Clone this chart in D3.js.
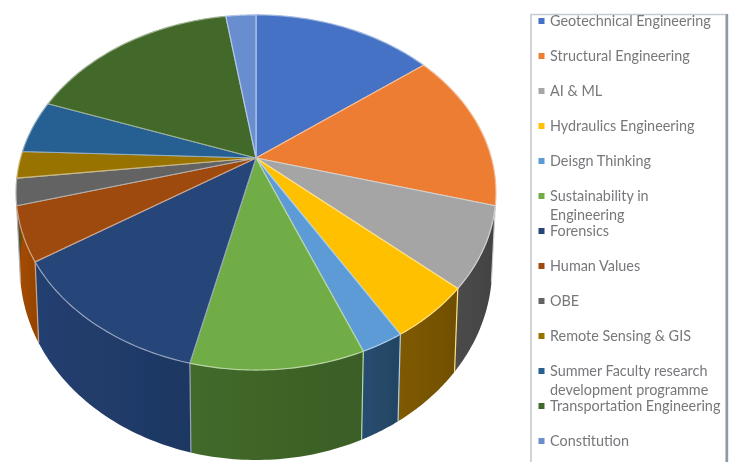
<!DOCTYPE html>
<html>
<head>
<meta charset="utf-8">
<script src="https://cdn.jsdelivr.net/npm/d3@7"></script>
<style>
  html, body {margin: 0; padding: 0; background: #fff;}
  svg {display: block;}
</style>
</head>
<body>
<svg id="chart" width="732" height="462"></svg>
<script>
`use strict`;

const Topics = [`Geotechnical Engineering`, `Structural Engineering`, `AI & ML`, `Hydraulics Engineering`, `Deisgn Thinking`, `Sustainability in Engineering`, `Forensics`, `Human Values`, `OBE`, `Remote Sensing & GIS`, `Summer Faculty research development programme`, `Transportation Engineering`, `Constitution`];

const Values = [6, 6, 3, 2, 1, 4, 5, 2, 1, 1, 2, 7, 1];

const TopColors = [`#4472c4`, `#ed7d31`, `#a5a5a5`, `#ffc000`, `#5b9bd5`, `#70ad47`, `#264478`, `#9e480e`, `#636363`, `#997300`, `#255e91`, `#43682b`, `#698ed0`];

const SideColors = [`#2d4c85`, `#a35520`, `#484848`, `#7a5600`, `#264a6b`, `#3f6628`, `#213c6b`, `#a34a05`, `#444444`, `#6b5000`, `#1a4266`, `#2f4a1e`, `#4a6492`];

const LegendLines = [[`Geotechnical Engineering`], [`Structural Engineering`], [`AI & ML`], [`Hydraulics Engineering`], [`Deisgn Thinking`], [`Sustainability in`, `Engineering`], [`Forensics`], [`Human Values`], [`OBE`], [`Remote Sensing & GIS`], [`Summer Faculty research`, `development programme`], [`Transportation Engineering`], [`Constitution`]];

(function () {

  const svg = d3.select(`#chart`);

  const defs = svg.append(`defs`);

  defs.append(`filter`).attr(`id`, `soft`)
    .attr(`x`, `-5%`).attr(`y`, `-5%`).attr(`width`, `110%`).attr(`height`, `110%`)
    .append(`feGaussianBlur`).attr(`stdDeviation`, .45);

  defs.append(`filter`).attr(`id`, `softer`)
    .attr(`x`, `-5%`).attr(`y`, `-5%`).attr(`width`, `110%`).attr(`height`, `110%`)
    .append(`feGaussianBlur`).attr(`stdDeviation`, .6);

  // tilted circle seen in perspective, apex sits above the middle of the ellipse
  const CX = 256, CY = 158, R = 235.4, RS = 170.9, K = .194, DEPTH = 72.5;

  const project = (angle, z) => {

    let u = Math.sin(angle), v = -Math.cos(angle), w = 1 - K * v;

    return [CX + R * u / w * (1 - .016 * z), CY + RS * v / w + z * DEPTH / w];
  };

  const color = d3.scaleOrdinal().domain(Topics).range(TopColors);

  const side = d3.scaleOrdinal().domain(Topics).range(SideColors);

  const pale = d => d3.interpolateRgb(color(d), `#ffffff`)(.5);

  const arcs = d3.pie().sort(null).value((d, i) => Values[i])(Topics);

  const line = d3.line();

  const rim = (a0, a1, z) => d3.range(0, 41).map(i => project(a0 + (a1 - a0) * i / 40, z));

  const pie = svg.append(`g`).attr(`filter`, `url(#soft)`);

  // sides first, the top face paints over what is at the back
  arcs.forEach((d, i) => {

    let id = `side${i}`, p0 = project(d.startAngle, 0), p1 = project(d.endAngle, 0);

    let grad = defs.append(`linearGradient`).attr(`id`, id)
      .attr(`gradientUnits`, `userSpaceOnUse`)
      .attr(`x1`, p1[0]).attr(`x2`, p0[0]).attr(`y1`, 0).attr(`y2`, 0);

    grad.append(`stop`).attr(`offset`, 0).attr(`stop-color`, d3.color(side(d.data)).brighter(.12));

    grad.append(`stop`).attr(`offset`, 1).attr(`stop-color`, d3.color(side(d.data)).darker(.25));

    let outline = rim(d.startAngle, d.endAngle, 0).concat(rim(d.startAngle, d.endAngle, 1).reverse());

    pie.append(`path`)
      .attr(`d`, line(outline) + `Z`)
      .attr(`fill`, `url(#${id})`);
  });

  // pale seams between the side panels on the front of the pie
  arcs.forEach(d => {

    if (Math.cos(d.startAngle) > -.25) return;

    pie.append(`path`)
      .attr(`d`, line([project(d.startAngle, 0), project(d.startAngle, 1)]))
      .attr(`stroke`, pale(d.data))
      .attr(`stroke-width`, 1.2)
      .attr(`fill`, `none`);
  });

  arcs.forEach(d => {

    pie.append(`path`)
      .attr(`d`, line([[CX, CY]].concat(rim(d.startAngle, d.endAngle, 0))) + `Z`)
      .attr(`fill`, color(d.data))
      .attr(`stroke`, pale(d.data))
      .attr(`stroke-linejoin`, `round`)
      .attr(`stroke-width`, 1.2);
  });

  // legend box runs off the bottom of the picture
  const legend = svg.append(`g`).attr(`filter`, `url(#softer)`);

  legend.append(`path`).attr(`d`, `M531,470V14.5H726V470`).attr(`fill`, `none`).attr(`stroke`, `#c6cbd1`).attr(`stroke-width`, 1.6);

  legend.append(`path`).attr(`d`, `M727,14V470`).attr(`fill`, `none`).attr(`stroke`, `#8f99a8`).attr(`stroke-width`, 2.4);

  const y = d3.scalePoint().domain(Topics).range([21, 441]);

  const rows = legend.selectAll(`g.row`).data(Topics).enter().append(`g`)
    .attr(`class`, `row`)
    .attr(`transform`, d => `translate(0,${y(d)})`);

  rows.append(`rect`)
    .attr(`x`, 538.5).attr(`y`, -3).attr(`width`, 6).attr(`height`, 6)
    .attr(`fill`, d => color(d));

  rows.each(function (d, i) {

    d3.select(this).selectAll(`text`).data(LegendLines[i]).enter().append(`text`)
      .attr(`x`, 550)
      .attr(`y`, (t, n) => n * 19.5 + 4.5)
      .attr(`font-family`, `Lato, "Open Sans", sans-serif`)
      .attr(`font-size`, 14.4)
      .attr(`fill`, `#77787b`)
      .text(t => t);
  });
})();
</script>
</body>
</html>
